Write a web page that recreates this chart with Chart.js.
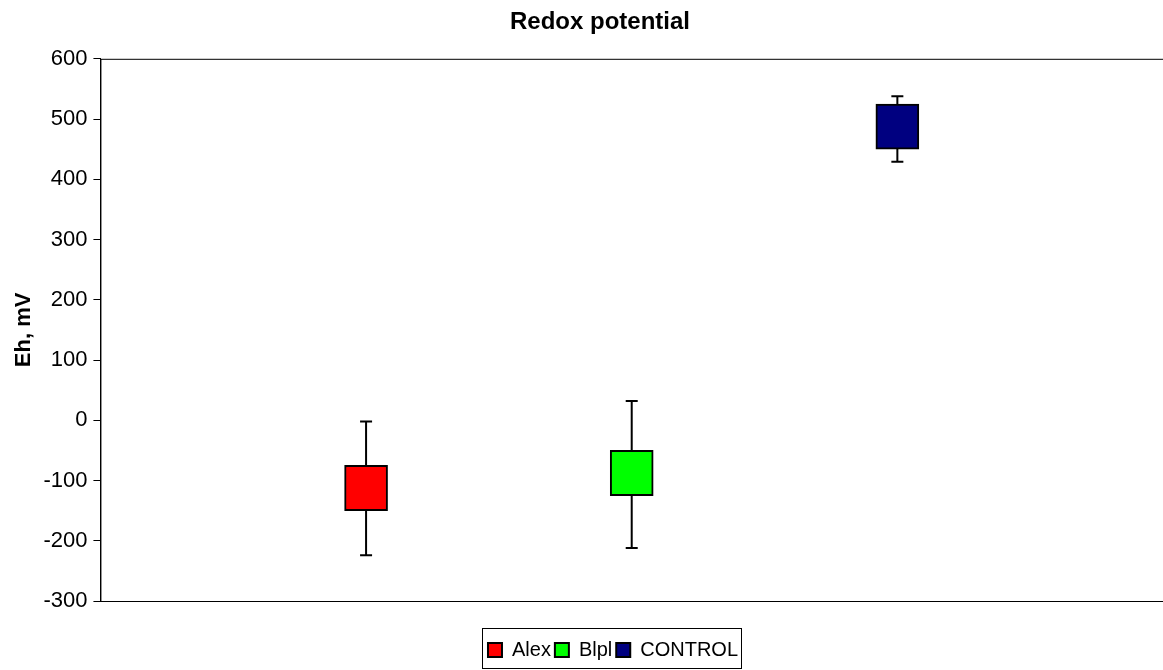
<!DOCTYPE html>
<html>
<head>
<meta charset="utf-8">
<script src="https://cdn.jsdelivr.net/npm/chart.js@4"></script>
<style>
  html, body { margin: 0; padding: 0; background: #fff; overflow: hidden; }
  #wrap { width: 1163px; height: 670px; }
</style>
</head>
<body>
<div id="wrap"><canvas id="chart"></canvas></div>
<script>
// values
const categories = ["Alex", "Blpl", "CONTROL"];
const boxLow = [-150, -125, 450];
const boxHigh = [-75, -50, 525];
const whiskerLow = [-224, -212, 429];
const whiskerHigh = [-2, 32, 538];
const colors = ["#ff0000", "#00ff00", "#000080"];
const yTicks = [-300, -200, -100, 0, 100, 200, 300, 400, 500, 600];

// empty slots at both ends so the three groups sit at 1/4, 2/4, 3/4
const labels = [""].concat(categories, [" "]);

Chart.defaults.font.family = "'Liberation Sans', Arial, sans-serif";
Chart.defaults.color = "#000";

const datasets = [];
categories.forEach((cat, i) => {
  datasets.push({
    type: "bar",
    label: cat,
    data: labels.map(l => (l === cat ? [boxLow[i], boxHigh[i]] : null)),
    backgroundColor: colors[i],
    borderColor: "#000",
    borderWidth: 2,
    borderSkipped: false,
    barThickness: 43,
    grouped: false,
    order: 0
  });
});
categories.forEach((cat, i) => {
  datasets.push({
    type: "line",
    label: "whisker-" + cat,
    data: [{ x: cat, y: whiskerLow[i] }, { x: cat, y: whiskerHigh[i] }],
    borderColor: "#000",
    borderWidth: 2,
    pointStyle: "line",
    pointRadius: 6,
    pointHoverRadius: 6,
    pointBorderColor: "#000",
    pointBorderWidth: 2,
    fill: false,
    order: 1
  });
});

// title and legend sit a bit right of the canvas centre in the original
const shiftBlocks = {
  id: "shiftBlocks",
  afterLayout(chart) {
    chart.titleBlock.left += 26;
    chart.titleBlock.width -= 26;
    chart.legend.left += 52;
    chart.legend.width -= 52;
  }
};

// frame round the plot and a box round the legend
const frames = {
  id: "frames",
  afterDraw(chart) {
    const ctx = chart.ctx;
    const a = chart.chartArea;
    ctx.save();
    ctx.strokeStyle = "#000";
    ctx.lineWidth = 1;
    ctx.strokeRect(a.left + 0.5, a.top + 0.5, a.right - a.left, a.bottom - a.top);
    const boxes = chart.legend.legendHitBoxes;
    if (boxes && boxes.length) {
      const l = Math.min(...boxes.map(b => b.left)) - 6;
      const r = Math.max(...boxes.map(b => b.left + b.width)) + 3;
      const t = Math.min(...boxes.map(b => b.top)) - 12;
      const bt = Math.max(...boxes.map(b => b.top + b.height)) + 8;
      ctx.strokeRect(Math.round(l) + 0.5, Math.round(t) + 0.5, Math.round(r - l), Math.round(bt - t));
    }
    ctx.restore();
  }
};

new Chart(document.getElementById("chart"), {
  type: "bar",
  data: { labels: labels, datasets: datasets },
  options: {
    responsive: true,
    maintainAspectRatio: false,
    animation: false,
    layout: { autoPadding: false, padding: { top: 0, right: 0, bottom: 0, left: 11 } },
    plugins: {
      title: {
        display: true,
        text: "Redox potential",
        font: { size: 24, weight: "bold" },
        padding: { top: 8, bottom: 22 }
      },
      legend: {
        position: "bottom",
        labels: {
          font: { size: 20 },
          boxWidth: 14,
          boxHeight: 14,
          padding: 4,
          filter: item => !item.text.startsWith("whisker-")
        }
      },
      tooltip: { enabled: false }
    },
    scales: {
      x: {
        offset: false,
        grid: { display: false },
        border: { display: true, color: "#000" },
        ticks: { display: false },
        afterFit: scale => {
          scale.height = 35;
          scale.paddingLeft = 0;
          scale.paddingRight = 0;
        }
      },
      y: {
        min: -300,
        max: 600,
        afterBuildTicks: scale => { scale.ticks = yTicks.map(v => ({ value: v })); },
        grid: { display: true, drawOnChartArea: false, drawTicks: true, tickLength: 7, tickColor: "#000" },
        border: { display: true, color: "#000" },
        ticks: { font: { size: 22 }, padding: 6 },
        title: {
          display: true,
          text: "Eh, mV",
          font: { size: 22, weight: "bold" },
          padding: 0
        }
      }
    }
  },
  plugins: [shiftBlocks, frames]
});
</script>
</body>
</html>
